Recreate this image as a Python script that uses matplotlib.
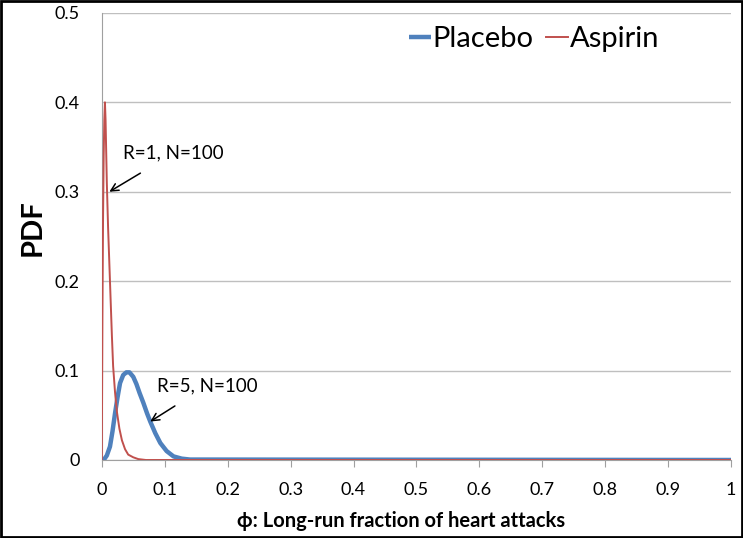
import matplotlib
matplotlib.use("Agg")
from matplotlib import pyplot as plt
from matplotlib.patches import Rectangle

# values
aspirin_phi = [0.0, 0.001, 0.002, 0.003, 0.004, 0.005, 0.006, 0.008, 0.010, 0.013,
               0.016, 0.018, 0.021, 0.024, 0.028, 0.032, 0.037, 0.042, 0.050, 0.058,
               0.07, 1.0]
aspirin_pdf = [0.0, 0.16, 0.27, 0.34, 0.38, 0.40, 0.38, 0.31, 0.26, 0.20,
               0.14, 0.105, 0.076, 0.054, 0.035, 0.022, 0.012, 0.006, 0.003, 0.001,
               0.0, 0.0]

placebo_phi = [0.0, 0.003, 0.008, 0.013, 0.017, 0.021, 0.025, 0.029, 0.034, 0.039,
               0.044, 0.050, 0.055, 0.060, 0.066, 0.072, 0.077, 0.085, 0.093, 0.103,
               0.114, 0.127, 0.14, 1.0]
placebo_pdf = [0.0, 0.0, 0.005, 0.015, 0.032, 0.052, 0.070, 0.086, 0.095, 0.098,
               0.098, 0.093, 0.085, 0.075, 0.064, 0.052, 0.043, 0.030, 0.019, 0.010,
               0.004, 0.0015, 0.0005, 0.0]

x_ticks = [0, 0.1, 0.2, 0.3, 0.4, 0.5, 0.6, 0.7, 0.8, 0.9, 1]
x_tick_labels = ["0", "0.1", "0.2", "0.3", "0.4", "0.5", "0.6", "0.7", "0.8", "0.9", "1"]
y_ticks = [0, 0.1, 0.2, 0.3, 0.4, 0.5]
y_tick_labels = ["0", "0.1", "0.2", "0.3", "0.4", "0.5"]

plt.rcParams['font.family'] = ['Lato', 'DejaVu Sans']

fig = plt.figure(figsize=(7.43, 5.38), dpi=100)
ax = fig.add_axes([0.137, 0.145, 0.847, 0.831])

ax.plot(placebo_phi, placebo_pdf, color='#4F81BD', lw=3.2, label='Placebo',
        solid_capstyle='butt', zorder=3)
ax.plot(aspirin_phi, aspirin_pdf, color='#C0504D', lw=1.4, label='Aspirin', zorder=4)

ax.set_xlim(0, 1)
ax.set_ylim(0, 0.5)
ax.set_xticks(x_ticks)
ax.set_xticklabels(x_tick_labels, fontsize=13)
ax.set_yticks(y_ticks)
ax.set_yticklabels(y_tick_labels, fontsize=13)
ax.tick_params(axis='y', length=0, pad=16)
ax.tick_params(axis='x', direction='out', length=5, color='#a0a0a0', pad=11)
ax.grid(axis='y', color='#bfbfbf', lw=1)
ax.set_axisbelow(True)
for s in ['top', 'right']:
    ax.spines[s].set_visible(False)
ax.spines['left'].set_color('#a0a0a0')
ax.spines['bottom'].set_color('#a0a0a0')

ax.set_ylabel('PDF', fontsize=21, fontweight='bold')
ax.yaxis.set_label_coords(-0.09, 0.52)
ax.set_xlabel('\u03d5: Long-run fraction of heart attacks', fontsize=14.5,
              fontweight='bold')
ax.xaxis.set_label_coords(0.475, -0.115)

ax.annotate('R=1, N=100', xy=(0.012, 0.30), xytext=(0.034, 0.343),
            fontsize=13.5, va='center', ha='left',
            arrowprops=dict(arrowstyle='->', color='black', lw=1.1,
                            shrinkA=12, shrinkB=0))
ax.annotate('R=5, N=100', xy=(0.077, 0.043), xytext=(0.087, 0.083),
            fontsize=13.5, va='center', ha='left',
            arrowprops=dict(arrowstyle='->', color='black', lw=1.1,
                            shrinkA=12, shrinkB=0))

ax.legend(loc='center left', bbox_to_anchor=(0.465, 0.942), ncol=2, frameon=False,
          fontsize=21, handlelength=0.75, handletextpad=0.05, columnspacing=0.45,
          borderpad=0)

fig.patches.append(Rectangle((0.002, 0.002), 0.996, 0.996, transform=fig.transFigure,
                             fill=False, edgecolor='black', lw=2))

fig.savefig('out.png', dpi=100)
